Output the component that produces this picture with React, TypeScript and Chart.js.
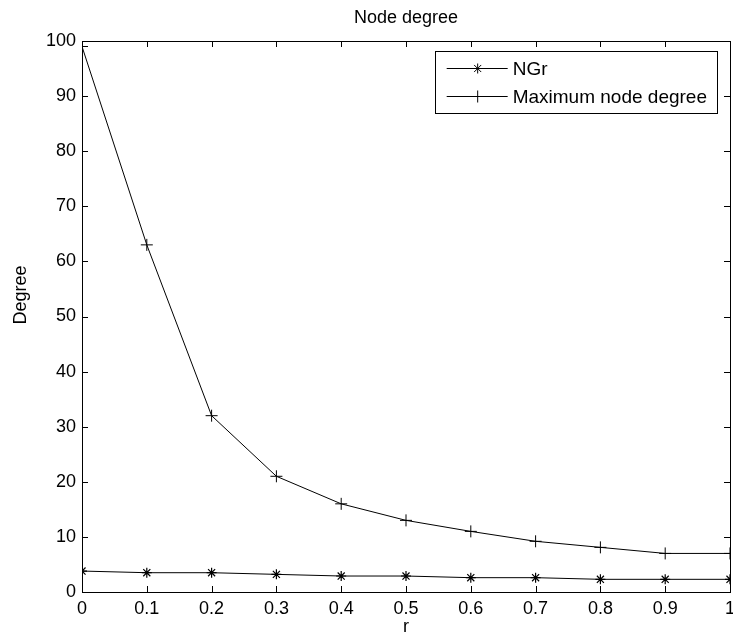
import React, { useEffect, useRef } from 'react';
import { Chart, registerables } from 'chart.js';

Chart.register(...registerables);

// ---- data ----
const rValues = [0, 0.1, 0.2, 0.3, 0.4, 0.5, 0.6, 0.7, 0.8, 0.9, 1.0];
const ngrValues = [3.8, 3.5, 3.5, 3.2, 2.9, 2.9, 2.6, 2.6, 2.3, 2.3, 2.3];
const maxDegreeValues = [99, 63, 32, 21, 16, 13, 11, 9.2, 8.1, 7, 7];
const seriesLabels = ['NGr', 'Maximum node degree'];
const seriesMarkers = ['star', 'cross'];
const chartTitle = 'Node degree';
const xAxisTitle = 'r';
const yAxisTitle = 'Degree';
const xTickValues = [0, 0.1, 0.2, 0.3, 0.4, 0.5, 0.6, 0.7, 0.8, 0.9, 1];
const yTickValues = [0, 10, 20, 30, 40, 50, 60, 70, 80, 90, 100];

const FONT = '"Liberation Sans", Arial, Helvetica, sans-serif';
const TICK_SIZE = 18;
const TEXT_SIZE = 18;
const LEGEND_SIZE = 19;

function drawMarker(ctx: CanvasRenderingContext2D, style: string, x: number, y: number) {
  ctx.beginPath();
  if (style === 'cross') {
    const r = 6;
    ctx.moveTo(x - r, y); ctx.lineTo(x + r, y);
    ctx.moveTo(x, y - r); ctx.lineTo(x, y + r);
  } else {
    const r = 5;
    const d = r * 0.7071;
    ctx.moveTo(x - r, y); ctx.lineTo(x + r, y);
    ctx.moveTo(x, y - r); ctx.lineTo(x, y + r);
    ctx.moveTo(x - d, y - d); ctx.lineTo(x + d, y + d);
    ctx.moveTo(x - d, y + d); ctx.lineTo(x + d, y - d);
  }
  ctx.stroke();
}

const framePlugin = {
  id: 'matlabFrame',
  afterDraw(chart: any) {
    const { ctx, chartArea } = chart;
    const { left, right, top, bottom } = chartArea;
    const xs = chart.scales.x;
    const ys = chart.scales.y;
    ctx.save();
    ctx.strokeStyle = '#000';
    ctx.lineWidth = 1;
    // box
    ctx.strokeRect(Math.round(left) + 0.5, Math.round(top) + 0.5, Math.round(right - left), Math.round(bottom - top));
    // inward ticks
    const tl = 6;
    ctx.beginPath();
    xs.ticks.forEach((t: any) => {
      const px = Math.round(xs.getPixelForValue(t.value)) + 0.5;
      ctx.moveTo(px, bottom); ctx.lineTo(px, bottom - tl);
      ctx.moveTo(px, top); ctx.lineTo(px, top + tl);
    });
    ys.ticks.forEach((t: any) => {
      const py = Math.round(ys.getPixelForValue(t.value)) + 0.5;
      ctx.moveTo(left, py); ctx.lineTo(left + tl, py);
      ctx.moveTo(right, py); ctx.lineTo(right - tl, py);
    });
    ctx.stroke();

    // title
    ctx.fillStyle = '#000';
    ctx.font = `${TEXT_SIZE}px ${FONT}`;
    ctx.textAlign = 'center';
    ctx.textBaseline = 'alphabetic';
    ctx.fillText(chartTitle, (left + right) / 2, 23);

    // y axis title
    ctx.save();
    ctx.translate(21, 295);
    ctx.rotate(-Math.PI / 2);
    ctx.textAlign = 'center';
    ctx.textBaseline = 'middle';
    ctx.fillText(yAxisTitle, 0, 0);
    ctx.restore();

    // legend
    ctx.font = `${LEGEND_SIZE}px ${FONT}`;
    const textW = Math.max(...seriesLabels.map((s) => ctx.measureText(s).width));
    const boxW = 78 + textW + 10;
    const boxR = Math.round(right) - 13;
    const boxL = boxR - boxW;
    const boxT = Math.round(top) + 10;
    const boxH = 62;
    ctx.fillStyle = '#fff';
    ctx.fillRect(boxL, boxT, boxW, boxH);
    ctx.strokeRect(Math.round(boxL) + 0.5, boxT + 0.5, Math.round(boxW), boxH);
    const rows = [boxT + 16.5, boxT + 44.5];
    seriesLabels.forEach((label, i) => {
      const y = Math.round(rows[i]) + 0.5;
      ctx.beginPath();
      ctx.moveTo(boxL + 12, y); ctx.lineTo(boxL + 73, y);
      ctx.stroke();
      drawMarker(ctx, seriesMarkers[i], boxL + 43, y);
      ctx.fillStyle = '#000';
      ctx.textAlign = 'left';
      ctx.textBaseline = 'middle';
      ctx.fillText(label, boxL + 78, y + 1);
    });
    ctx.restore();
  },
};

export default function App() {
  const canvasRef = useRef<HTMLCanvasElement | null>(null);

  useEffect(() => {
    document.body.style.margin = '0';
    const canvas = canvasRef.current;
    if (!canvas) return;
    const tickFont = { family: FONT, size: TICK_SIZE };
    const chart = new Chart(canvas, {
      type: 'line',
      data: {
        datasets: [
          {
            label: seriesLabels[0],
            data: rValues.map((r, i) => ({ x: r, y: ngrValues[i] })),
            borderColor: '#000',
            backgroundColor: '#000',
            borderWidth: 1,
            pointStyle: 'star',
            pointRadius: 5,
            pointBorderWidth: 1.2,
            pointBorderColor: '#000',
            fill: false,
            tension: 0,
          },
          {
            label: seriesLabels[1],
            data: rValues.map((r, i) => ({ x: r, y: maxDegreeValues[i] })),
            borderColor: '#000',
            backgroundColor: '#000',
            borderWidth: 1,
            pointStyle: 'cross',
            pointRadius: 6,
            pointBorderWidth: 1,
            pointBorderColor: '#000',
            fill: false,
            tension: 0,
          },
        ],
      },
      plugins: [framePlugin],
      options: {
        animation: false,
        responsive: false,
        devicePixelRatio: 1,
        layout: { padding: { top: 41, right: 1, bottom: 0, left: 0 } },
        plugins: {
          legend: { display: false },
          title: { display: false },
          tooltip: { enabled: false },
        },
        scales: {
          x: {
            type: 'linear',
            min: 0,
            max: 1,
            afterBuildTicks: (s: any) => {
              s.ticks = xTickValues.map((v) => ({ value: v }));
            },
            ticks: {
              callback: (v: any) => String(Math.round(Number(v) * 10) / 10),
              font: tickFont,
              color: '#000',
              padding: 6,
              maxRotation: 0,
              autoSkip: false,
            },
            grid: { display: false, drawTicks: false },
            border: { display: false },
            title: {
              display: true,
              text: xAxisTitle,
              font: { family: FONT, size: TEXT_SIZE },
              color: '#000',
              padding: { top: 0, bottom: 3 },
            },
            afterFit: (s: any) => {
              s.height = 49;
              s.paddingLeft = 0;
              s.paddingRight = 0;
            },
          },
          y: {
            type: 'linear',
            min: 0,
            max: 100,
            afterBuildTicks: (s: any) => {
              s.ticks = yTickValues.map((v) => ({ value: v }));
            },
            ticks: {
              font: tickFont,
              color: '#000',
              padding: 6,
              autoSkip: false,
            },
            grid: { display: false, drawTicks: false },
            border: { display: false },
            title: { display: false },
            afterFit: (s: any) => {
              s.width = 82;
              s.paddingTop = 0;
              s.paddingBottom = 0;
            },
          },
        },
      },
    } as any);
    return () => chart.destroy();
  }, []);

  return (
    <div style={{ position: 'fixed', left: 0, top: 0, width: 733, height: 641, overflow: 'hidden', background: '#fff' }}>
      <canvas ref={canvasRef} width={737} height={641} style={{ width: 737, height: 641, display: 'block' }} />
    </div>
  );
}
